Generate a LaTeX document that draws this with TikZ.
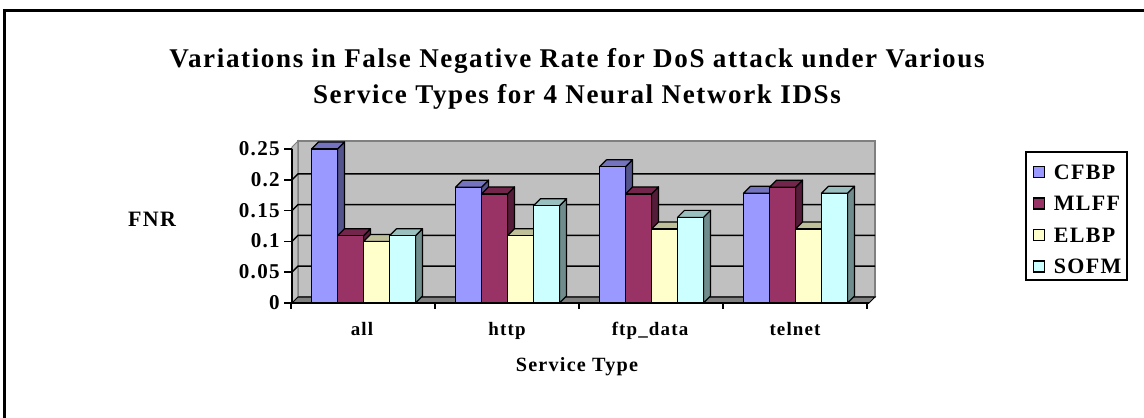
\documentclass[tikz,border=0pt]{standalone}
\usepackage{fontspec}
\setmainfont{Liberation Serif}[LetterSpace=6]
\usepackage{xcolor}
\definecolor{cBlue}{HTML}{9999FF}
\definecolor{cPlum}{HTML}{993366}
\definecolor{cCream}{HTML}{FFFFCC}
\definecolor{cAqua}{HTML}{CCFFFF}
\definecolor{cWall}{HTML}{C0C0C0}
\definecolor{cFloor}{HTML}{808080}
\usepackage{tikz}
\usetikzlibrary{positioning}

% one 3D column: left x, value, colour
\newcommand{\fnrbar}[3]{%
  \pgfmathsetmacro{\fbx}{#1}%
  \pgfmathsetmacro{\fby}{303-616*#2}%
  \filldraw[fill=#3!55!black, bar] (\fbx+26,303) -- (\fbx+33,296)
    -- (\fbx+33,\fby-7) -- (\fbx+26,\fby) -- cycle;
  \filldraw[fill=#3!75!black, bar] (\fbx,\fby) -- (\fbx+7,\fby-7)
    -- (\fbx+33,\fby-7) -- (\fbx+26,\fby) -- cycle;
  \filldraw[fill=#3, bar] (\fbx,303) rectangle (\fbx+26,\fby);
}

\begin{document}
\begin{tikzpicture}[
  x=0.02cm, y=-0.02cm,
  every node/.style={inner sep=0pt},
  bar/.style={draw=black, line width=0.7pt, line join=round},
  title/.style={font=\fontsize{15.4}{18}\selectfont\bfseries, anchor=base},
  ticklbl/.style={font=\fontsize{12}{14}\selectfont\bfseries, anchor=base east},
  catlbl/.style={font=\fontsize{10.8}{13}\selectfont\bfseries, anchor=base},
  leglbl/.style={font=\fontsize{12.5}{15}\selectfont\bfseries},
  legkey/.style={draw=black, line width=0.6pt, minimum size=0.22cm}
]
\useasboundingbox (0,0) rectangle (1144,418);
\draw[line width=1.7pt] (1150,10.5) -- (4.5,10.5) -- (4.5,425);

\node[title] (title1) at (577,68)
  {Variations in False Negative Rate for DoS attack under Various};
\node[title] (title2) at (577,104) {Service Types for 4 Neural Network IDSs};

% walls and floor
\filldraw[fill=cWall, draw=cFloor, line width=0.6pt] (298,141) rectangle (875,297);
\filldraw[fill=cWall, draw=cFloor, line width=0.6pt]
  (292,303) -- (292,147) -- (298,141) -- (298,297) -- cycle;
\foreach \v in {0.05,0.1,0.15,0.2} {
  \pgfmathsetmacro{\gy}{303-616*\v}
  \draw[line width=0.8pt] (292,\gy) -- (298,\gy-6) -- (875,\gy-6);
}
\filldraw[fill=cFloor, draw=black, line width=0.6pt]
  (292,303) -- (298,297) -- (875,297) -- (869,303) -- cycle;

% columns
\foreach \gx/\va/\vb/\vc/\vd in {311.5/0.25/0.109/0.1/0.109,
    455.5/0.188/0.177/0.109/0.158, 599.5/0.221/0.177/0.12/0.139,
    743.5/0.178/0.188/0.12/0.178} {
  \fnrbar{\gx}{\va}{cBlue}
  \fnrbar{\gx+26}{\vb}{cPlum}
  \fnrbar{\gx+52}{\vc}{cCream}
  \fnrbar{\gx+78}{\vd}{cAqua}
}

% axes
\draw[line width=0.8pt] (292,149) -- (292,303) -- (869,303);
\foreach \v [count=\i] in {0,0.05,0.1,0.15,0.2,0.25} {
  \pgfmathsetmacro{\gy}{303-616*\v}
  \draw[line width=0.8pt] (284,\gy) -- (292,\gy);
  \node[ticklbl] (ytick\i) at (280,\gy+6.5) {\v};
}
\foreach \x in {291,435,579,723,867}
  \draw[line width=0.8pt] (\x,303) -- (\x,309);

\node[catlbl] (catall) at (362,336) {all};
\node[catlbl] (cathttp) at (507,336) {http};
\node[catlbl] (catftp) at (650,336) {ftp\_data};
\node[catlbl] (cattelnet) at (795,336) {telnet};
\node[catlbl, font=\fontsize{11.5}{14}\selectfont\bfseries] (xlabel)
  at (577,372) {Service Type};
\node[leglbl, anchor=base] (ylabel) at (152,226.5) {FNR};

% legend
\node[draw=black, line width=0.8pt, minimum width=2.02cm, minimum height=2.56cm]
  (legend) at (1076.5,216) {};
\foreach \c/\n [count=\i] in {cBlue/CFBP, cPlum/MLFF, cCream/ELBP, cAqua/SOFM} {
  \node[legkey, fill=\c] (key\i) at (1039,140.5+31.5*\i) {};
  \node[leglbl, right=0.17cm of key\i] (lab\i) {\n};
}
\end{tikzpicture}
\end{document}
